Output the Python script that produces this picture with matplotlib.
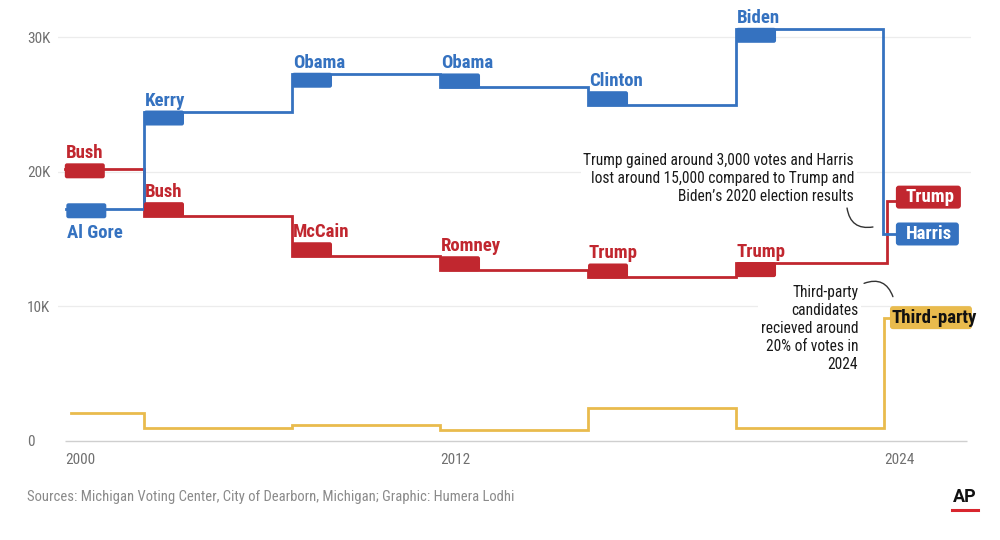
import numpy as np
import matplotlib
matplotlib.use("Agg")
import matplotlib.pyplot as plt
from matplotlib import font_manager
from matplotlib.patches import FancyBboxPatch
from matplotlib.lines import Line2D

# Dearborn, Michigan presidential votes by election
years = [2000, 2004, 2008, 2012, 2016, 2020, 2024]
dem_names = ["Al Gore", "Kerry", "Obama", "Obama", "Clinton", "Biden", "Harris"]
dem_votes = [17250, 24480, 27290, 26300, 24980, 30630, 15390]
rep_names = ["Bush", "Bush", "McCain", "Romney", "Trump", "Trump", "Trump"]
rep_votes = [20220, 16730, 13750, 12710, 12170, 13210, 17870]
third_name = "Third-party"
third_votes = [2060, 990, 1210, 800, 2430, 990, 9170]

y_ticks = [0, 10000, 20000, 30000]
y_tick_labels = ["0", "10K", "20K", "30K"]
x_tick_years = [2000, 2012, 2024]

note_2024 = ("Trump gained around 3,000 votes and Harris\n"
             "lost around 15,000 compared to Trump and\n"
             "Biden\u2019s 2020 election results")
note_third = "Third-party\ncandidates\nrecieved around\n20% of votes in\n2024"
source = "Sources: Michigan Voting Center, City of Dearborn, Michigan; Graphic: Humera Lodhi"

BLUE = "#3572c0"
RED = "#c1272f"
YELLOW = "#e9bb4d"


def pick_font(cands, **kw):
    for c in cands:
        try:
            font_manager.findfont(font_manager.FontProperties(family=c, **kw),
                                  fallback_to_default=False)
            return c
        except ValueError:
            pass
    return "DejaVu Sans"


COND = pick_font(["Roboto Condensed", "Liberation Sans Narrow", "Roboto"])
PLAIN = pick_font(["Roboto", "Liberation Sans"])

fig = plt.figure(figsize=(10, 5.4), dpi=100)
ax = fig.add_axes([0.058, 0.1667, 0.913, 0.7963])
ax.set_xlim(2001.676, 2026.35)
ax.set_ylim(-669, 31301)
for s in ax.spines.values():
    s.set_visible(False)

# where each series is drawn along x (the 2000 segment is cut short)
x_start = np.array(years, dtype=float)
x_start[0] = 2001.86

PX_X = 37.0       # pixels per year
PX_Y = 13.45      # pixels per 1,000 votes
px_x = lambda p: p / PX_X
px_y = lambda p: p * 1000 / PX_Y

# grid
for t in y_ticks[1:]:
    ax.axhline(t, color="#ececec", lw=0.9, zorder=0)
ax.hlines(0, x_start[0], 2026.24, color="#cfcfcf", lw=1, zorder=0)

ax.set_yticks(y_ticks, y_tick_labels)
xt = [x_start[years.index(y)] for y in x_tick_years]
ax.set_xticks(xt, [str(y) for y in x_tick_years])
ax.tick_params(length=0, labelcolor="#707070", labelsize=11)
ax.tick_params(axis="y", pad=22.3)
ax.tick_params(axis="x", pad=2)
for lab in ax.get_yticklabels() + ax.get_xticklabels():
    lab.set_family(COND)
    lab.set_ha("left")


def step_line(values, first_x, last_step, end_x, color, z):
    xs = [first_x] + list(x_start[1:-1]) + [last_step, end_x]
    ys = list(values) + [values[-1]]
    ax.step(xs, ys, where="post", color=color, lw=2.0, zorder=z,
            solid_joinstyle="miter")


step_line(third_votes, 2002.03, 2024.0, 2024.2, YELLOW, 2)
step_line(rep_votes, x_start[0], 2024.08, 2024.35, RED, 3)
step_line(dem_votes, x_start[0] + px_x(1.5), 2023.97, 2024.35, BLUE, 4)

TAG_W = px_x(40)
TAG_H = px_y(15)
HALF_LW = px_y(1.2)
ASPECT = PX_X / PX_Y * 1000


def small_tag(x0, v, prev, color, name, below=False):
    if prev is None:
        y0 = v - 0.62 * TAG_H
    elif v > prev:
        y0 = v - TAG_H + HALF_LW
    else:
        y0 = v - HALF_LW
    ax.add_patch(FancyBboxPatch((x0, y0), TAG_W, TAG_H,
                                boxstyle="round,pad=0,rounding_size=0.06",
                                mutation_aspect=ASPECT, fc=color, ec="none", zorder=6))
    if below:
        ax.annotate(name, (x0, y0), xytext=(0.5, -4.3), textcoords="offset points",
                    ha="left", va="top", color=color, fontsize=13.5,
                    fontweight="bold", family=COND, zorder=7)
    else:
        ax.annotate(name, (x0, y0 + TAG_H), xytext=(0.5, 3.6), textcoords="offset points",
                    ha="left", va="baseline", color=color, fontsize=13.5,
                    fontweight="bold", family=COND, zorder=7)


for i in range(6):
    prev_d = dem_votes[i - 1] if i else None
    prev_r = rep_votes[i - 1] if i else None
    small_tag(x_start[i] + (px_x(1.5) if i == 0 else 0), dem_votes[i], prev_d,
              BLUE, dem_names[i], below=(i == 0))
    small_tag(x_start[i], rep_votes[i], prev_r, RED, rep_names[i])


def big_tag(x0, w, v, shift, color, name, tcolor, tpad):
    h = px_y(23)
    y0 = v + shift - h / 2
    ax.add_patch(FancyBboxPatch((x0, y0), w, h,
                                boxstyle="round,pad=0,rounding_size=0.08",
                                mutation_aspect=ASPECT, fc=color, ec="none",
                                zorder=6, clip_on=False))
    ax.text(x0 + tpad, y0 + h / 2, name, ha="left", va="center", color=tcolor,
            fontsize=13.5, fontweight="bold", family=COND, zorder=7, clip_on=False)


big_tag(2024.32, px_x(65), rep_votes[-1], px_y(3.5), RED, rep_names[-1], "white", px_x(10))
big_tag(2024.32, px_x(63), dem_votes[-1], 0, BLUE, dem_names[-1], "white", px_x(10))
big_tag(2024.16, px_x(82), third_votes[-1], 0, YELLOW, third_name, "#111111", px_x(2))

# notes
box = dict(fc="white", ec="none", pad=2)
ax.text(2023.19, 19480, note_2024, ha="right", va="center", fontsize=11.2,
        family=COND, color="#1a1a1a", linespacing=1.25, bbox=box, zorder=5)
ax.text(2023.30, 8400, note_third, ha="right", va="center", fontsize=11.2,
        family=COND, color="#1a1a1a", linespacing=1.25, bbox=box, zorder=5)
conn = dict(arrowstyle="-", color="#333333", lw=1, shrinkA=0, shrinkB=0)
ax.annotate("", xy=(2023.70, 15910), xytext=(2023.0, 17320),
            arrowprops=dict(conn, connectionstyle="arc3,rad=0.5"), zorder=5)
ax.annotate("", xy=(2024.24, 10730), xytext=(2023.46, 11720),
            arrowprops=dict(conn, connectionstyle="arc3,rad=-0.5"), zorder=5)

fig.text(0.027, 1 - 497 / 540, source, ha="left", va="center", fontsize=10.5,
         family=COND, color="#8a8a8a")
fig.text(0.965, 1 - 497 / 540, "AP", ha="center", va="center", fontsize=13,
         fontweight="bold", family=PLAIN, color="#111111")
fig.add_artist(Line2D([0.952, 0.978], [1 - 510 / 540] * 2, color="#d8262e", lw=2.2,
                      transform=fig.transFigure))

fig.savefig("out.png", dpi=100, facecolor="white")
